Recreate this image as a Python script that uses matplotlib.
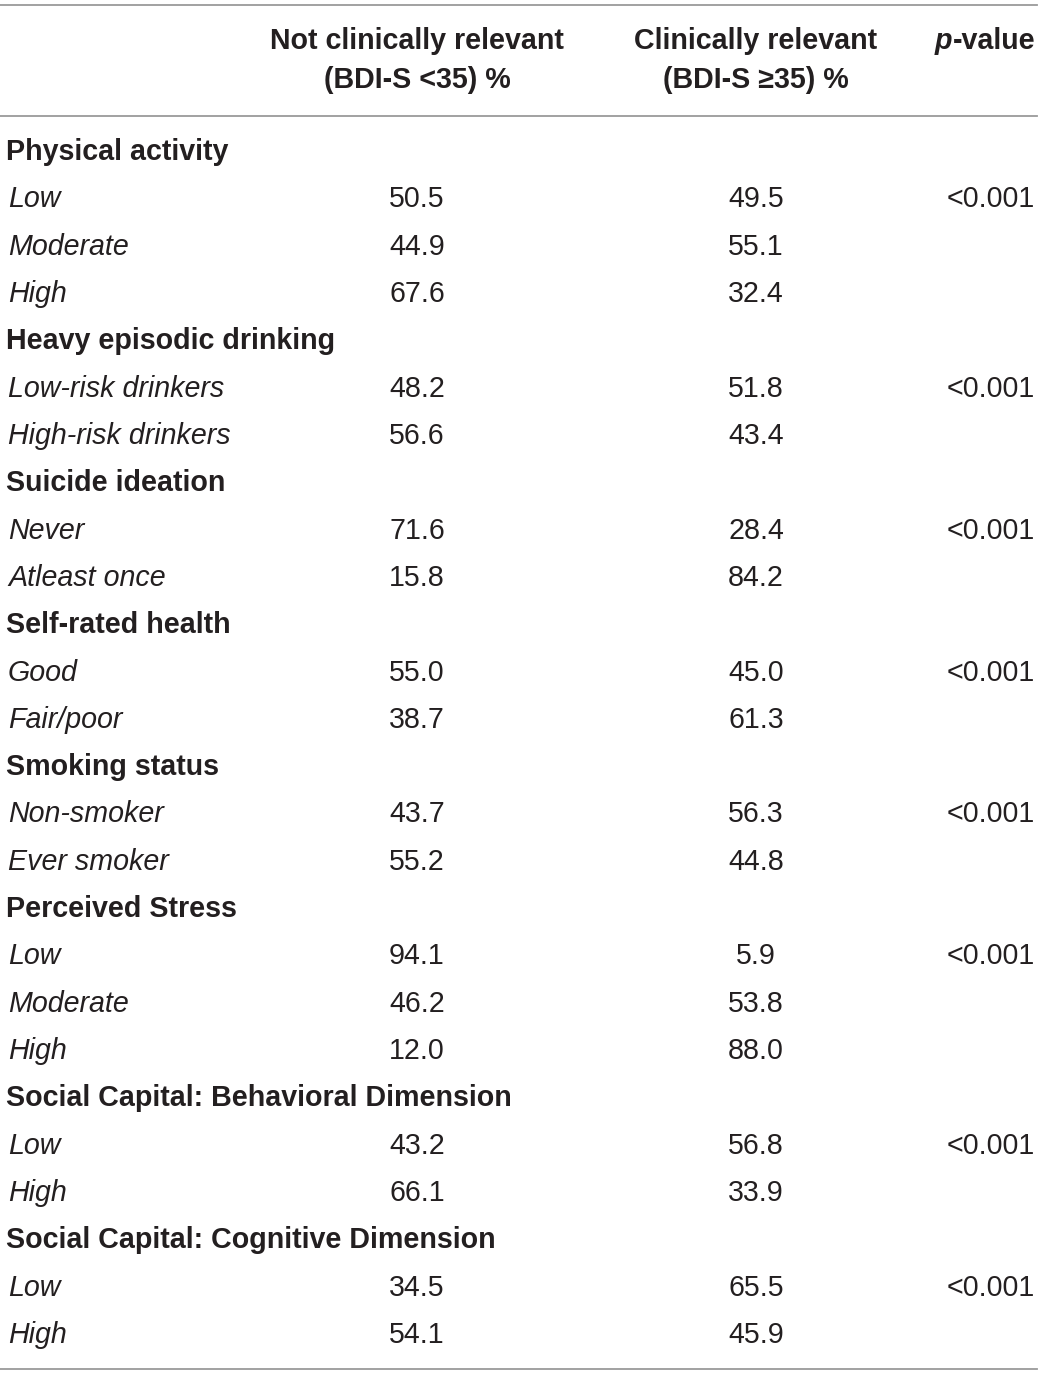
import matplotlib.pyplot as plt

# table content
groups = [
    "Physical activity",
    "Heavy episodic drinking",
    "Suicide ideation",
    "Self-rated health",
    "Smoking status",
    "Perceived Stress",
    "Social Capital: Behavioral Dimension",
    "Social Capital: Cognitive Dimension",
]
levels = [
    ["Low", "Moderate", "High"],
    ["Low-risk drinkers", "High-risk drinkers"],
    ["Never", "Atleast once"],
    ["Good", "Fair/poor"],
    ["Non-smoker", "Ever smoker"],
    ["Low", "Moderate", "High"],
    ["Low", "High"],
    ["Low", "High"],
]
not_relevant = [
    [50.5, 44.9, 67.6],
    [48.2, 56.6],
    [71.6, 15.8],
    [55.0, 38.7],
    [43.7, 55.2],
    [94.1, 46.2, 12.0],
    [43.2, 66.1],
    [34.5, 54.1],
]
relevant = [
    [49.5, 55.1, 32.4],
    [51.8, 43.4],
    [28.4, 84.2],
    [45.0, 61.3],
    [56.3, 44.8],
    [5.9, 53.8, 88.0],
    [56.8, 33.9],
    [65.5, 45.9],
]
p_values = ["<0.001"] * len(groups)

W, H = 1043, 1376
fig = plt.figure(figsize=(W / 100, H / 100), dpi=100)
ax = fig.add_axes([0, 0, 1, 1])
ax.set_xlim(0, W)
ax.set_ylim(H, 0)
ax.axis("off")

txt = "#231f20"
rule = "#9a9a9a"
fam = "Liberation Sans"
fs = 20.6

# horizontal rules
for y in (5, 116, 1369):
    ax.plot([0, 1037], [y, y], color=rule, lw=1.3)

# header
col1_x, col2_x, p_x = 417, 756, 1035
head = dict(va="center", fontsize=fs, fontweight="bold", family=fam, color=txt)
ax.text(col1_x, 41, "Not clinically relevant", ha="center", **head)
ax.text(col1_x, 80, "(BDI-S <35) %", ha="center", **head)
ax.text(col2_x, 41, "Clinically relevant", ha="center", **head)
ax.text(col2_x, 80, "(BDI-S \u226535) %", ha="center", **head)
t = ax.text(p_x, 41, "-value", ha="right", **head)
fig.canvas.draw()
bb = t.get_window_extent()
ax.text(bb.x0, 41, "p", ha="right", style="italic", **head)

y0, step = 152, 47.32
row = 0
for g, name in enumerate(groups):
    y = y0 + row * step
    ax.text(6, y, name, ha="left", va="center", fontsize=fs,
            fontweight="bold", family=fam, color=txt)
    row += 1
    for k, lev in enumerate(levels[g]):
        y = y0 + row * step
        ax.text(8, y, lev, ha="left", va="center", fontsize=fs,
                style="italic", family=fam, color=txt)
        ax.text(col1_x, y, f"{not_relevant[g][k]:.1f}", ha="center",
                va="center", fontsize=fs, family=fam, color=txt)
        ax.text(col2_x, y, f"{relevant[g][k]:.1f}", ha="center",
                va="center", fontsize=fs, family=fam, color=txt)
        if k == 0:
            ax.text(p_x, y, p_values[g], ha="right", va="center",
                    fontsize=fs, family=fam, color=txt)
        row += 1

fig.savefig("out.png", dpi=100)
